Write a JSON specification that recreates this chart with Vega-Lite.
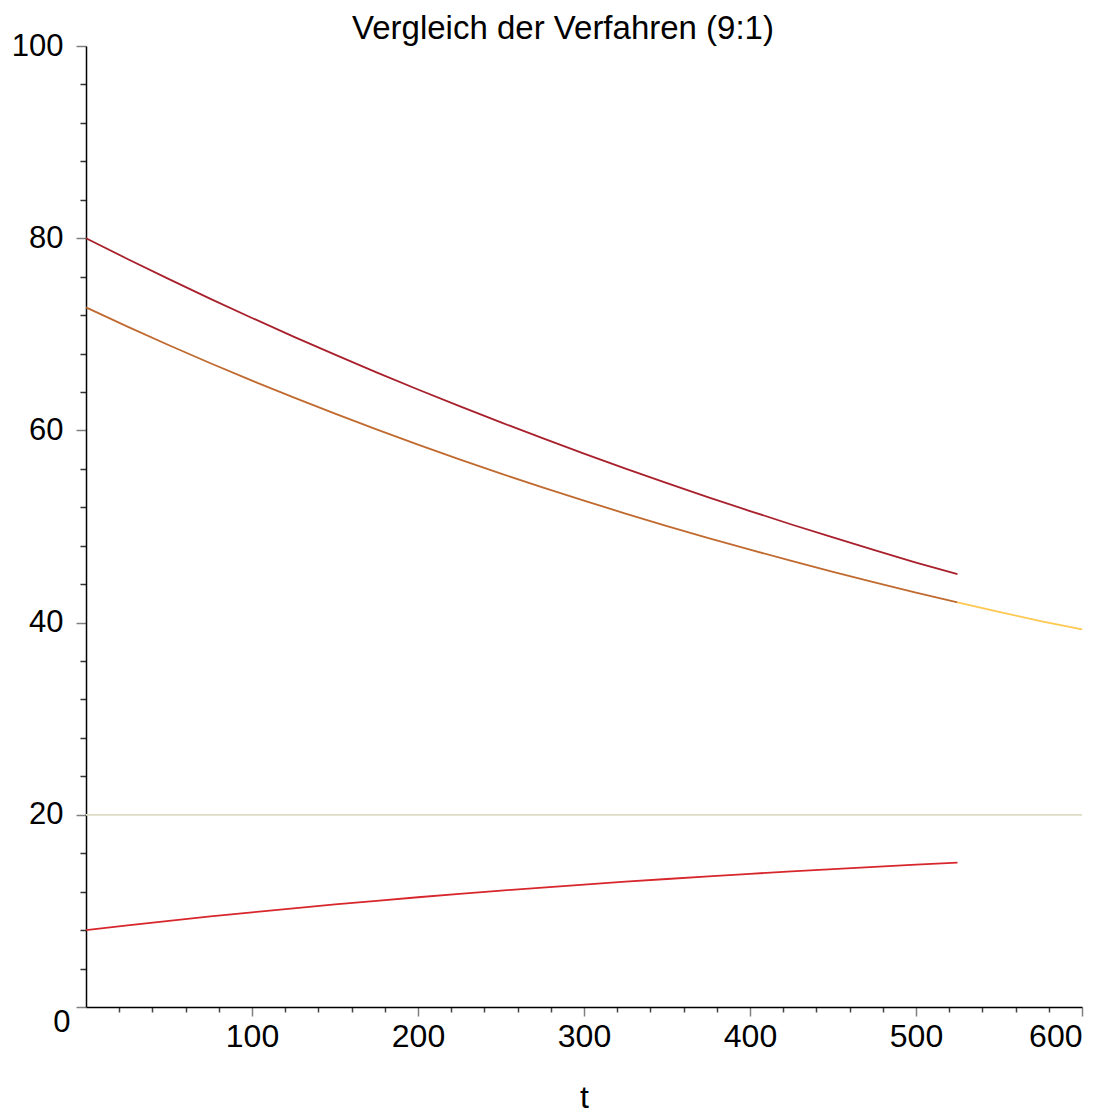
{
  "$schema": "https://vega.github.io/schema/vega-lite/v6.json",
  "width": 996,
  "height": 961,
  "autosize": {"type": "none"},
  "padding": {"left": 86, "top": 46, "right": 31, "bottom": 106},
  "background": "white",
  "title": {
    "text": "Vergleich der Verfahren (9:1)",
    "font": "Liberation Sans",
    "fontSize": 33,
    "fontWeight": "normal",
    "color": "black",
    "anchor": "middle",
    "dx": -21,
    "dy": 16,
    "offset": 0
  },
  "config": {
    "view": {"stroke": null},
    "axis": {"labelFont": "Liberation Sans", "titleFont": "Liberation Sans", "grid": false}
  },
  "data": {
    "values": [
      {"t": 0, "v": 80.0, "s": "A"}, {"t": 25, "v": 77.84, "s": "A"}, {"t": 50, "v": 75.74, "s": "A"}, {"t": 75, "v": 73.69, "s": "A"},
      {"t": 100, "v": 71.7, "s": "A"}, {"t": 125, "v": 69.76, "s": "A"}, {"t": 150, "v": 67.88, "s": "A"}, {"t": 175, "v": 66.04, "s": "A"},
      {"t": 200, "v": 64.26, "s": "A"}, {"t": 225, "v": 62.52, "s": "A"}, {"t": 250, "v": 60.83, "s": "A"}, {"t": 275, "v": 59.19, "s": "A"},
      {"t": 300, "v": 57.59, "s": "A"}, {"t": 325, "v": 56.03, "s": "A"}, {"t": 350, "v": 54.52, "s": "A"}, {"t": 375, "v": 53.04, "s": "A"},
      {"t": 400, "v": 51.61, "s": "A"}, {"t": 425, "v": 50.21, "s": "A"}, {"t": 450, "v": 48.86, "s": "A"}, {"t": 475, "v": 47.54, "s": "A"},
      {"t": 500, "v": 46.25, "s": "A"}, {"t": 525, "v": 45.05, "s": "A"},
      {"t": 0, "v": 72.8, "s": "B"}, {"t": 25, "v": 70.8, "s": "B"}, {"t": 50, "v": 68.86, "s": "B"}, {"t": 75, "v": 66.99, "s": "B"},
      {"t": 100, "v": 65.18, "s": "B"}, {"t": 125, "v": 63.43, "s": "B"}, {"t": 150, "v": 61.74, "s": "B"}, {"t": 175, "v": 60.1, "s": "B"},
      {"t": 200, "v": 58.52, "s": "B"}, {"t": 225, "v": 56.99, "s": "B"}, {"t": 250, "v": 55.5, "s": "B"}, {"t": 275, "v": 54.07, "s": "B"},
      {"t": 300, "v": 52.69, "s": "B"}, {"t": 325, "v": 51.35, "s": "B"}, {"t": 350, "v": 50.05, "s": "B"}, {"t": 375, "v": 48.8, "s": "B"},
      {"t": 400, "v": 47.59, "s": "B"}, {"t": 425, "v": 46.42, "s": "B"}, {"t": 450, "v": 45.28, "s": "B"}, {"t": 475, "v": 44.19, "s": "B"},
      {"t": 500, "v": 43.13, "s": "B"}, {"t": 525, "v": 42.1, "s": "B"},
      {"t": 525, "v": 42.1, "s": "C"}, {"t": 550, "v": 41.11, "s": "C"}, {"t": 575, "v": 40.16, "s": "C"}, {"t": 600, "v": 39.3, "s": "C"},
      {"t": 0, "v": 8.0, "s": "D"}, {"t": 25, "v": 8.49, "s": "D"}, {"t": 50, "v": 8.96, "s": "D"}, {"t": 75, "v": 9.42, "s": "D"},
      {"t": 100, "v": 9.85, "s": "D"}, {"t": 125, "v": 10.27, "s": "D"}, {"t": 150, "v": 10.67, "s": "D"}, {"t": 175, "v": 11.05, "s": "D"},
      {"t": 200, "v": 11.42, "s": "D"}, {"t": 225, "v": 11.77, "s": "D"}, {"t": 250, "v": 12.11, "s": "D"}, {"t": 275, "v": 12.43, "s": "D"},
      {"t": 300, "v": 12.74, "s": "D"}, {"t": 325, "v": 13.04, "s": "D"}, {"t": 350, "v": 13.32, "s": "D"}, {"t": 375, "v": 13.6, "s": "D"},
      {"t": 400, "v": 13.86, "s": "D"}, {"t": 425, "v": 14.11, "s": "D"}, {"t": 450, "v": 14.35, "s": "D"}, {"t": 475, "v": 14.58, "s": "D"},
      {"t": 500, "v": 14.81, "s": "D"}, {"t": 525, "v": 15.02, "s": "D"}
    ]
  },
  "layer": [
    {
      "data": {"values": [{"t": 0, "v": 20, "s": "R"}, {"t": 600, "v": 20, "s": "R"}]},
      "mark": {"type": "line", "strokeWidth": 1.8, "color": "#dcdcc4", "clip": false},
      "encoding": {
        "x": {"field": "t", "type": "quantitative", "scale": {"domain": [0, 600], "nice": false},
          "axis": {"orient": "bottom", "values": [20, 40, 60, 80, 120, 140, 160, 180, 220, 240, 260, 280, 320, 340, 360, 380, 420, 440, 460, 480, 520, 540, 560, 580],
            "labels": false, "domain": false, "title": null, "tickSize": 5, "tickWidth": 1.5, "tickColor": "#444"}},
        "y": {"field": "v", "type": "quantitative", "scale": {"domain": [0, 100], "nice": false},
          "axis": {"orient": "left", "values": [4, 8, 12, 16, 24, 28, 32, 36, 44, 48, 52, 56, 64, 68, 72, 76, 84, 88, 92, 96],
            "labels": false, "domain": false, "title": null, "tickSize": 6, "tickWidth": 1.5, "tickColor": "#333"}}
      }
    },
    {
      "mark": {"type": "line", "strokeWidth": 1.8, "clip": false},
      "encoding": {
        "x": {"field": "t", "type": "quantitative",
          "axis": {"orient": "bottom", "values": [100, 200, 300, 400, 500, 600], "title": "t", "titleFontSize": 32, "titleFontWeight": "normal", "titleColor": "black", "titlePadding": 30,
            "labelFontSize": 32, "labelColor": "black", "labelPadding": 5, "tickSize": 9, "tickWidth": 1.5, "tickColor": "#808080",
            "domainColor": "black", "domainWidth": 1.5}},
        "y": {"field": "v", "type": "quantitative",
          "axis": {"orient": "left", "values": [0, 20, 40, 60, 80, 100], "title": null,
            "labelFontSize": 31, "labelColor": "black",
            "labelPadding": {"condition": {"test": "datum.value == 0", "value": 6}, "value": 13},
            "labelBaseline": {"condition": {"test": "datum.value == 0", "value": "top"}, "value": "middle"},
            "tickSize": 10, "tickWidth": 1.5, "tickColor": "#808080",
            "domainColor": "black", "domainWidth": 1.5}},
        "color": {"field": "s", "type": "nominal", "legend": null,
          "scale": {"domain": ["A", "B", "C", "D"], "range": ["#a8202c", "#c06a30", "#ffc850", "#d7262c"]}},
        "detail": {"field": "s"}
      }
    }
  ],
  "resolve": {"axis": {"x": "independent", "y": "independent"}}
}
